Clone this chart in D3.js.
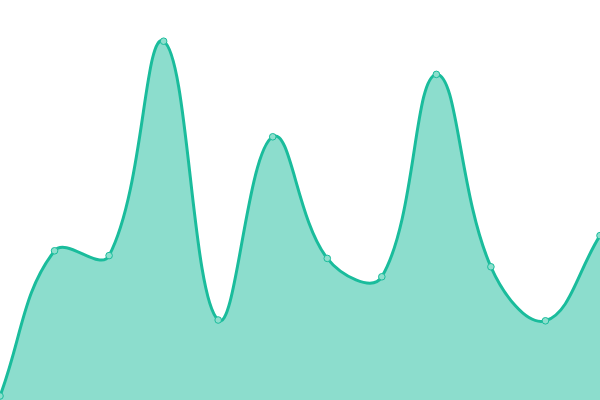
<!DOCTYPE html>
<html>
<head>
<meta charset="utf-8">
<script src="https://cdn.jsdelivr.net/npm/d3@7"></script>
<style>
  body { margin: 0; background: #fff; }
  svg { display: block; }
</style>
</head>
<body>
<svg width="600" height="400"></svg>
<script>
const labels = ["1", "2", "3", "4", "5", "6", "7", "8", "9", "10", "11", "12"]
const values = [1, 37.3, 36.1, 89.7, 20, 65.8, 35.4, 30.8, 81.4, 33.3, 19.8, 41.1]

const svg = d3.select("svg")
const width = +svg.attr("width")
const height = +svg.attr("height")
const color = "#1abc9c"

const x = d3.scalePoint().domain(labels).range([0, width])
const y = d3.scaleLinear().domain([0, 100]).range([height, 0])

// spline like chart.js (tension 0.4, distance weighted control points)
function splineCurve(context) {
  return {
    areaStart() { this._line = 0 },
    areaEnd() { this._line = NaN },
    lineStart() { this._pts = [] },
    point(px, py) { this._pts.push([+px, +py]) },
    lineEnd() {
      const p = this._pts, n = p.length, t = 0.4
      const ctrl = p.map((cur, i) => {
        const prev = p[i - 1] || cur, next = p[i + 1] || cur
        const d01 = Math.hypot(cur[0] - prev[0], cur[1] - prev[1])
        const d12 = Math.hypot(next[0] - cur[0], next[1] - cur[1])
        let s01 = d01 / (d01 + d12), s12 = d12 / (d01 + d12)
        if (isNaN(s01)) s01 = 0
        if (isNaN(s12)) s12 = 0
        const fa = t * s01, fb = t * s12
        const clampX = v => Math.max(0, Math.min(width, v))
        const clampY = v => Math.max(0, Math.min(height, v))
        return {
          prev: [clampX(cur[0] - fa * (next[0] - prev[0])), clampY(cur[1] - fa * (next[1] - prev[1]))],
          next: [clampX(cur[0] + fb * (next[0] - prev[0])), clampY(cur[1] + fb * (next[1] - prev[1]))]
        }
      })
      p.forEach((pt, i) => {
        if (i === 0) {
          this._line ? context.lineTo(pt[0], pt[1]) : context.moveTo(pt[0], pt[1])
        } else {
          const a = ctrl[i - 1].next, b = ctrl[i].prev
          context.bezierCurveTo(a[0], a[1], b[0], b[1], pt[0], pt[1])
        }
      })
      if (this._line || (this._line !== 0 && n === 1)) context.closePath()
      this._line = 1 - this._line
    }
  }
}

const data = labels.map((l, i) => ({ label: l, value: values[i] }))

const area = d3.area()
  .x(d => x(d.label))
  .y0(height)
  .y1(d => y(d.value))
  .curve(splineCurve)

const line = d3.line()
  .x(d => x(d.label))
  .y(d => y(d.value))
  .curve(splineCurve)

svg.append("path")
  .datum(data)
  .attr("d", area)
  .attr("fill", color)
  .attr("fill-opacity", 0.5)

svg.append("path")
  .datum(data)
  .attr("d", line)
  .attr("fill", "none")
  .attr("stroke", color)
  .attr("stroke-width", 3)

svg.selectAll("circle")
  .data(data)
  .join("circle")
  .attr("cx", d => x(d.label))
  .attr("cy", d => y(d.value))
  .attr("r", 3.3)
  .attr("fill", "#8ddfcd")
  .attr("stroke", color)
  .attr("stroke-width", 1)
</script>
</body>
</html>
